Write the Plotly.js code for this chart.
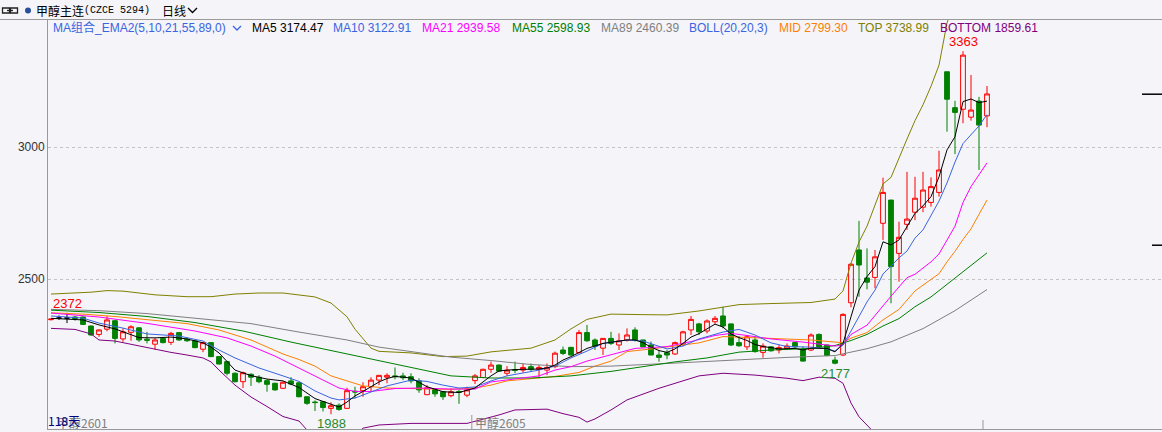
<!DOCTYPE html>
<html><head><meta charset="utf-8">
<script src="https://cdn.plot.ly/plotly-3.0.1.min.js"></script>
<style>html,body{margin:0;padding:0;background:#f4f4f9;overflow:hidden}#chart{width:1162px;height:432px}</style>
</head><body><div id="chart"></div>
<script>
// ---------- candle data (index 0..117 = 118 trading days) ----------
const openP = [2346,2352,2352,2356,2356,2322,2290,2310,2342,2273, 2298,2315,2272,2253,2275,2260,2297,2272,2266,2234,
 2259,2206,2187,2143,2111,2139,2128,2115,2105,2086, 2114,2107,2054,2034,2035,2010,2022,2010,2075,2077,
 2092,2117,2128,2133,2133,2130,2114,2062,2082,2073, 2058,2074,2060,2115,2127,2158,2174,2143,2156,2155,
 2168,2158,2155,2168,2231,2241,2221,2297,2269,2238, 2275,2250,2269,2307,2269,2250,2212,2221,2216,2254,
 2307,2330,2303,2338,2360,2330,2259,2243,2269,2222, 2243,2231,2237,2259,2234,2231,2290,2250,2193,2212,
 2410,2610,2504,2506,2711,2799,2597,2707,2753,2772, 2790,2828,3285,3149,3143,3113,3174,3118];
const highP = [2350,2362,2372,2360,2358,2324,2309,2360,2345,2313, 2325,2318,2300,2276,2278,2300,2298,2280,2268,2262,
 2261,2208,2190,2146,2149,2143,2136,2120,2107,2112, 2128,2109,2055,2040,2037,2033,2029,2088,2092,2109,
 2128,2136,2143,2165,2145,2143,2124,2098,2086,2075, 2086,2080,2092,2140,2160,2187,2176,2170,2187,2180,
 2180,2174,2180,2225,2244,2243,2307,2326,2275,2276, 2300,2294,2313,2317,2270,2263,2231,2231,2263,2304,
 2360,2334,2347,2360,2395,2331,2284,2288,2284,2256, 2245,2250,2256,2263,2244,2294,2294,2252,2206,2370,
 2560,2720,2616,2610,2884,2800,2717,2906,2887,2906, 2885,2986,3285,3175,3363,3273,3190,3231];
const lowP = [2343,2345,2333,2342,2326,2285,2281,2302,2256,2262, 2266,2262,2256,2232,2256,2250,2266,2262,2238,2223,
 2204,2176,2135,2108,2087,2095,2105,2073,2077,2083, 2098,2052,2023,2000,1998,1988,2001,2008,2048,2054,
 2073,2098,2105,2120,2117,2105,2069,2060,2054,2042, 2052,2027,2052,2102,2124,2145,2149,2132,2143,2145,
 2149,2124,2136,2162,2212,2210,2218,2262,2231,2212, 2250,2231,2263,2263,2241,2212,2187,2196,2212,2246,
 2288,2288,2294,2330,2313,2246,2243,2231,2221,2202, 2225,2218,2233,2237,2187,2227,2241,2208,2177,2208,
 2393,2433,2461,2465,2648,2408,2490,2686,2723,2753, 2774,2812,3058,2973,3090,3100,2913,3075];
const closeP = [2348,2352,2352,2350,2328,2288,2307,2345,2275,2300, 2319,2269,2268,2269,2259,2294,2269,2266,2240,2259,
 2206,2178,2143,2111,2145,2128,2111,2101,2080,2109, 2102,2054,2029,2032,2013,2020,2006,2077,2072,2092,
 2117,2135,2135,2130,2126,2114,2080,2088,2065,2054, 2073,2071,2080,2133,2158,2174,2151,2155,2154,2165,
 2158,2165,2165,2219,2218,2212,2297,2266,2246,2275, 2256,2266,2288,2269,2243,2212,2203,2212,2259,2300,
 2347,2300,2341,2351,2322,2250,2247,2281,2225,2246, 2228,2240,2246,2243,2189,2288,2243,2210,2181,2366,
 2556,2553,2488,2584,2828,2547,2658,2727,2806,2837, 2850,2913,3181,3131,3348,3140,3083,3201];
const dojiIdx = [1, 2];

// ---------- overlay lines: [day index, value] ----------
const ma5Pts = [[0,2351],[3,2348],[4,2345],[6,2326],[8,2311],[11,2278],[13,2277],[15,2280],[17,2273],[19,2258],[20,2242],[21,2220],[22,2186],[23,2155],[25,2134],[27,2121],[29,2114],[31,2089],[33,2047],[35,2026],[36,2015],[37,2034],[38,2057],[39,2074],[40,2091],[41,2110],[42,2123],[43,2131],[45,2125],[47,2092],[49,2073],[51,2070],[53,2087],[54,2110],[55,2133],[56,2152],[58,2157],[61,2159],[62,2163],[63,2174],[64,2193],[65,2206],[66,2223],[67,2237],[69,2256],[71,2265],[72,2269],[73,2269],[74,2259],[75,2242],[76,2229],[77,2222],[78,2235],[79,2256],[80,2280],[81,2293],[82,2311],[83,2329],[84,2318],[85,2292],[86,2278],[87,2267],[88,2252],[89,2244],[90,2240],[91,2235],[93,2237],[94,2231],[95,2238],[96,2238],[97,2237],[98,2224],[99,2256],[100,2357],[101,2458],[102,2509],[103,2547],[104,2641],[105,2629],[106,2648],[107,2698],[108,2749],[109,2777],[110,2812],[111,2887],[112,2989],[113,3039],[114,3172],[115,3182],[116,3168],[117,3174]];
const ma10Pts = [[0,2360],[4,2352],[6,2333],[9,2314],[12,2292],[16,2284],[19,2265],[21,2231],[23,2201],[26,2163],[29,2133],[31,2112],[33,2076],[35,2049],[36,2042],[38,2049],[40,2072],[42,2095],[45,2117],[47,2112],[49,2098],[51,2087],[53,2091],[55,2114],[57,2133],[61,2155],[63,2170],[65,2201],[67,2227],[69,2256],[72,2269],[74,2265],[77,2235],[79,2246],[81,2273],[84,2299],[86,2309],[88,2288],[90,2258],[92,2244],[95,2242],[97,2235],[98,2227],[99,2250],[100,2303],[101,2360],[102,2413],[103,2458],[104,2519],[105,2549],[106,2580],[107,2606],[108,2655],[109,2686],[110,2739],[111,2795],[112,2864],[113,2943],[114,3013],[115,3045],[116,3080],[117,3123]];
const ma21Pts = [[0,2371],[6,2356],[12,2332],[18,2303],[22,2277],[25,2246],[28,2208],[31,2163],[34,2117],[36,2087],[38,2074],[40,2074],[43,2085],[46,2087],[50,2083],[53,2083],[55,2110],[57,2117],[61,2133],[63,2155],[65,2168],[67,2189],[70,2212],[73,2237],[77,2244],[80,2263],[83,2286],[85,2294],[87,2286],[90,2273],[94,2261],[98,2246],[99,2250],[100,2290],[102,2325],[104,2400],[105,2435],[106,2470],[107,2505],[108,2518],[109,2540],[110,2565],[111,2595],[112,2650],[113,2700],[114,2790],[115,2850],[116,2895],[117,2940]];
const ma55Pts = [[0,2382],[6,2373],[12,2358],[18,2335],[24,2303],[30,2261],[35,2229],[40,2197],[45,2163],[50,2133],[55,2125],[60,2125],[65,2133],[70,2150],[74,2168],[78,2186],[82,2201],[86,2223],[90,2231],[95,2237],[98,2248],[100,2267],[102,2290],[104,2322],[106,2350],[108,2395],[110,2432],[112,2480],[114,2527],[116,2575],[117,2599]];
const ma89Pts = [[0,2385],[6,2380],[12,2369],[18,2352],[25,2331],[31,2299],[37,2269],[41,2242],[45,2225],[50,2204],[55,2191],[60,2176],[65,2168],[70,2170],[77,2180],[85,2193],[92,2203],[98,2210],[102,2236],[105,2262],[109,2312],[113,2380],[117,2460]];
const midPts = [[0,2372],[4,2367],[8,2358],[12,2346],[17,2331],[21,2307],[25,2269],[29,2216],[31,2195],[33,2170],[35,2133],[37,2114],[39,2095],[42,2087],[46,2085],[50,2082],[53,2087],[55,2098],[57,2114],[60,2123],[63,2131],[66,2146],[68,2170],[70,2189],[72,2225],[75,2235],[78,2246],[81,2258],[84,2282],[87,2278],[91,2275],[95,2269],[98,2261],[99,2259],[100,2276],[102,2297],[104,2345],[106,2385],[108,2455],[110,2500],[111,2520],[112,2565],[113,2605],[114,2650],[115,2690],[116,2745],[117,2799]];
const topPts = [[0,2443],[5,2450],[7,2456],[9,2454],[11,2447],[13,2440],[17,2433],[20,2433],[23,2443],[26,2447],[29,2447],[31,2440],[33,2432],[35,2409],[37,2357],[38,2310],[40,2238],[41,2226],[45,2220],[49,2206],[52,2208],[55,2224],[60,2238],[63,2269],[65,2311],[67,2347],[70,2367],[74,2365],[77,2364],[81,2379],[84,2394],[86,2403],[90,2407],[95,2411],[98,2424],[99,2455],[100,2560],[101,2640],[102,2700],[103,2780],[104,2860],[105,2885],[106,2960],[107,3030],[108,3100],[109,3160],[110,3230],[111,3310],[112,3470],[113,3560],[114,3640],[115,3680],[116,3710],[117,3739]];
const bottomPts = [[0,2313],[3,2309],[5,2292],[6,2269],[8,2265],[10,2252],[12,2240],[15,2222],[17,2212],[19,2201],[20,2186],[21,2155],[23,2098],[25,2053],[27,2017],[29,1979],[31,1962],[32,1928],[34,1890],[36,1875],[38,1905],[39,1935],[41,1947],[45,1953],[52,1953],[56,1985],[58,2004],[62,2007],[64,1990],[66,1976],[67,1958],[68,1970],[70,2004],[72,2042],[76,2086],[78,2105],[81,2133],[84,2143],[88,2136],[92,2124],[94,2115],[96,2128],[98,2124],[99,2105],[100,2030],[101,1978],[102,1945],[103,1915],[105,1895],[110,1875],[117,1860]];

// ---------- header / legend texts ----------
const legendNames  = ['MA5','MA10','MA21','MA55','MA89','MID','TOP','BOTTOM'];
const legendValues = ['3174.47','3122.91','2939.58','2598.93','2460.39','2799.30','3738.99','1859.61'];
const peakLabels = [{i:2, v:2372, up:true}, {i:114, v:3363, up:true}, {i:35, v:1988, up:false}, {i:98, v:2177, up:false}];
const yTicks = [2500, 3000];
const lastPriceMarks = [3200, 2628];

// ---------- styles ----------
const BG = '#f4f4f9';
const COL = {MA5:'#000000', MA10:'#3a64e0', MA21:'#ff00ff', MA55:'#008000', MA89:'#808080', MID:'#ff8000', TOP:'#808000', BOTTOM:'#800080'};
const W = 1162, H = 432, ML = 48, MT = 20, MB = 3;
const PW = W - ML, PH = H - MT - MB;
const px = x => (x - ML) / PW;
const py = y => (H - MB - y) / PH;
const FONT = 'Liberation Sans, Noto Sans CJK SC, sans-serif';

const idx = openP.map((_, i) => i);
const normal = idx.filter(i => !dojiIdx.includes(i));
const pick = (arr, ids) => ids.map(i => arr[i]);

const traces = [];
traces.push({
  type:'candlestick', x: normal,
  open: pick(openP, normal), high: pick(highP, normal), low: pick(lowP, normal), close: pick(closeP, normal),
  increasing:{line:{color:'#ff0000', width:1}, fillcolor:'rgba(0,0,0,0)'},
  decreasing:{line:{color:'#008000', width:1}, fillcolor:'#008000'},
  whiskerwidth:0, hoverinfo:'none', showlegend:false
});
traces.push({
  type:'candlestick', x: dojiIdx,
  open: pick(openP, dojiIdx), high: pick(highP, dojiIdx), low: pick(lowP, dojiIdx), close: pick(closeP, dojiIdx),
  increasing:{line:{color:'#000000', width:1}, fillcolor:'#000000'},
  decreasing:{line:{color:'#000000', width:1}, fillcolor:'#000000'},
  whiskerwidth:0, hoverinfo:'none', showlegend:false
});
const lineSets = [['MID',midPts],['TOP',topPts],['BOTTOM',bottomPts],['MA89',ma89Pts],['MA55',ma55Pts],['MA21',ma21Pts],['MA10',ma10Pts],['MA5',ma5Pts]];
lineSets.forEach(([name, pts]) => {
  traces.push({type:'scatter', mode:'lines', x: pts.map(p => p[0]), y: pts.map(p => p[1]),
    line:{color: COL[name], width:1}, hoverinfo:'none', showlegend:false});
});

const ann = [];
function txt(text, x, y, color, size, family, anchor) {
  ann.push({text, xref:'paper', yref:'paper', x: px(x), y: py(y), xanchor: anchor || 'left', yanchor:'middle',
    showarrow:false, borderpad:0, font:{family: family || FONT, size: size || 12, color}});
}
// header row
txt('甲醇主连', 35, 10.5, '#000', 12, 'Noto Sans CJK SC');
txt('(CZCE 5294)', 83, 10.5, '#000', 10, 'Liberation Mono');
txt('日线', 161, 10.5, '#000', 12, 'Noto Sans CJK SC');
// legend row
txt('MA组合_EMA2(5,10,21,55,89,0)', 52, 28, '#3a64e0', 12);
const legX = [251, 332, 421, 511, 600, 778, 857, 939];
legendNames.forEach((n, k) => txt(n + ' ' + legendValues[k], legX[k], 28, COL[n], 12));
txt('BOLL(20,20,3)', 688, 28, '#3a64e0', 12);
// bottom texts
txt('甲醇2601', 56, 422, '#808080', 12, 'Noto Sans CJK SC');
txt('118天', 47, 420, '#000080', 12, 'Noto Sans CJK SC');
txt('甲醇2605', 474, 422, '#808080', 12, 'Noto Sans CJK SC');
// peak labels
peakLabels.forEach(p => ann.push({text: String(p.v), xref:'x', yref:'y', x: p.i, y: p.v,
  xanchor:'center', yanchor: p.up ? 'bottom' : 'top', yshift: p.up ? 1 : -1, showarrow:false, borderpad:0,
  font:{family: FONT, size:13, color: p.up ? '#ff0000' : '#2a8a2a'}}));

const shapes = [
  {type:'line', xref:'paper', yref:'paper', x0: px(0), x1: 1, y0: py(19.5), y1: py(19.5), line:{color:'#9a9a9a', width:1}},
  {type:'circle', xref:'paper', yref:'paper', x0: px(25), x1: px(31), y0: py(13.5), y1: py(7.5), fillcolor:'#27509a', line:{width:0}},
  {type:'rect', xref:'paper', yref:'paper', x0: px(2.5), x1: px(9.5), y0: py(13), y1: py(8), line:{color:'#222', width:1.3}},
  {type:'rect', xref:'paper', yref:'paper', x0: px(10.5), x1: px(17.5), y0: py(13), y1: py(8), line:{color:'#222', width:1.3}},
  {type:'line', xref:'paper', yref:'paper', x0: px(7), x1: px(13), y0: py(10.5), y1: py(10.5), line:{color:'#222', width:1.3}},
  {type:'path', xref:'paper', yref:'paper', path:`M ${px(188)} ${py(8)} L ${px(192.5)} ${py(12.5)} L ${px(197)} ${py(8)}`, line:{color:'#000', width:1.3}},
  {type:'path', xref:'paper', yref:'paper', path:`M ${px(233)} ${py(26)} L ${px(237)} ${py(30)} L ${px(241)} ${py(26)}`, line:{color:'#3a64e0', width:1.3}},
  {type:'line', xref:'x', yref:'paper', x0: 52.6, x1: 52.6, y0: 0, y1: py(415), line:{color:'#999', width:1}},
  {type:'line', xref:'x', yref:'paper', x0: 116.5, x1: 116.5, y0: 0, y1: py(420), line:{color:'#999', width:1}},
  {type:'line', xref:'paper', yref:'y', x0: px(1142), x1: 1, y0: lastPriceMarks[0], y1: lastPriceMarks[0], line:{color:'#000', width:1.5}},
  {type:'line', xref:'paper', yref:'y', x0: px(1152), x1: 1, y0: lastPriceMarks[1], y1: lastPriceMarks[1], line:{color:'#000', width:1.5}}
];

const layout = {
  width: W, height: H, margin:{l:ML, r:0, t:MT, b:MB, pad:0},
  paper_bgcolor: BG, plot_bgcolor: BG, showlegend:false,
  boxmode:'overlay', boxgap:0.15,
  xaxis:{range:[-0.375, 138.875], showticklabels:false, showgrid:false, zeroline:false, showline:true,
    linecolor:'#999', linewidth:1, ticks:'', fixedrange:true, rangeslider:{visible:false}},
  yaxis:{range:[1931.8, 3481.1], tickvals: yTicks, ticktext: yTicks.map(String), showgrid:true,
    gridcolor:'#c4c4c4', griddash:'3px,3px', gridwidth:1, zeroline:false, showline:true, linecolor:'#999',
    linewidth:1, ticks:'', fixedrange:true, tickfont:{family: FONT, size:12, color:'#333'}},
  annotations: ann, shapes: shapes, hovermode:false
};
Plotly.newPlot('chart', traces, layout, {displayModeBar:false, staticPlot:true});
</script></body></html>
